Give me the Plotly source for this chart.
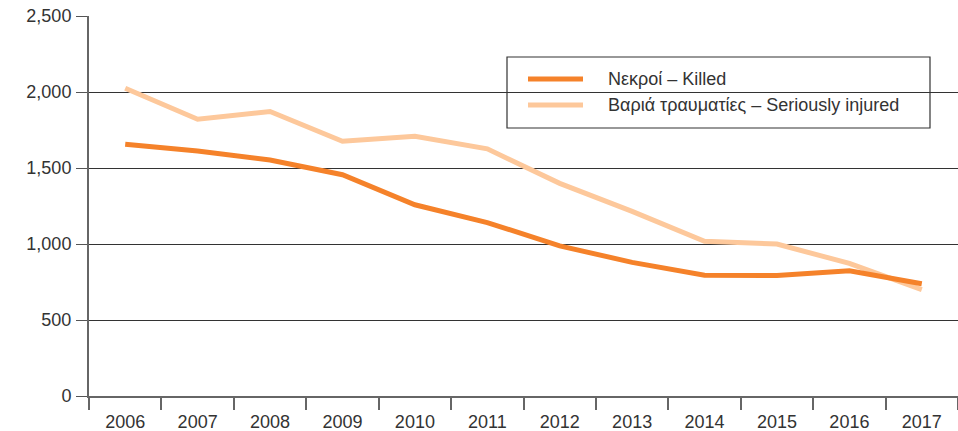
import plotly.graph_objects as go

years = ["2006", "2007", "2008", "2009", "2010", "2011",
         "2012", "2013", "2014", "2015", "2016", "2017"]
killed = [1657, 1612, 1553, 1456, 1258, 1141, 988, 879, 795, 793, 824, 739]
injured = [2025, 1821, 1872, 1676, 1709, 1626, 1399, 1215, 1018, 1000, 872, 700]

name_killed = "Νεκροί – Killed"
name_injured = "Βαριά τραυματίες – Seriously injured"

c_killed = "#F5822A"
c_injured = "#FDC89B"

FONT = "Liberation Sans, Arial, Helvetica, sans-serif"

fig = go.Figure()
fig.add_trace(go.Scatter(x=years, y=injured, mode="lines", name=name_injured,
                         line=dict(color=c_injured, width=5), showlegend=False))
fig.add_trace(go.Scatter(x=years, y=killed, mode="lines", name=name_killed,
                         line=dict(color=c_killed, width=5), showlegend=False))

W, H = 958, 431
L, R, T, B = 89, 0, 16, 35
pw, ph = W - L - R, H - T - B


def px(x):
    return (x - L) / pw


def py(y):
    return (H - B - y) / ph


# legend box drawn in paper coordinates
shapes = [dict(type="rect", xref="paper", yref="paper",
               x0=px(507), x1=px(930), y0=py(128), y1=py(57),
               line=dict(color="#333333", width=1.2), fillcolor="rgba(0,0,0,0)")]
annotations = []
for yy, col, txt in [(79, c_killed, name_killed), (105, c_injured, name_injured)]:
    shapes.append(dict(type="line", xref="paper", yref="paper",
                       x0=px(528), x1=px(583), y0=py(yy), y1=py(yy),
                       line=dict(color=col, width=5)))
    annotations.append(dict(xref="paper", yref="paper", x=px(606), y=py(yy),
                            xanchor="left", yanchor="middle", showarrow=False,
                            text=txt, font=dict(size=18, color="#333333", family=FONT)))

fig.update_layout(
    width=W, height=H,
    margin=dict(l=L, r=R, t=T, b=B, autoexpand=False),
    paper_bgcolor="white", plot_bgcolor="white",
    font=dict(family=FONT, size=18, color="#333333"),
    shapes=shapes, annotations=annotations,
    xaxis=dict(type="category", range=[-0.5, 11.5], tickson="boundaries",
               ticks="outside", ticklen=12, tickcolor="#666666", tickwidth=1.5,
               showline=True, linecolor="#666666", linewidth=2,
               showgrid=False, zeroline=False, fixedrange=True,
               ticklabelstandoff=8, automargin=False),
    yaxis=dict(range=[0, 2500], tickvals=[0, 500, 1000, 1500, 2000, 2500],
               tickformat=",", ticks="outside", ticklen=11, tickcolor="#555555",
               tickwidth=1.3, showline=True, linecolor="#666666", linewidth=2,
               showgrid=True, gridcolor="#333333", gridwidth=1.2,
               zeroline=False, ticklabelstandoff=1),
)

fig.write_html("out.html")
